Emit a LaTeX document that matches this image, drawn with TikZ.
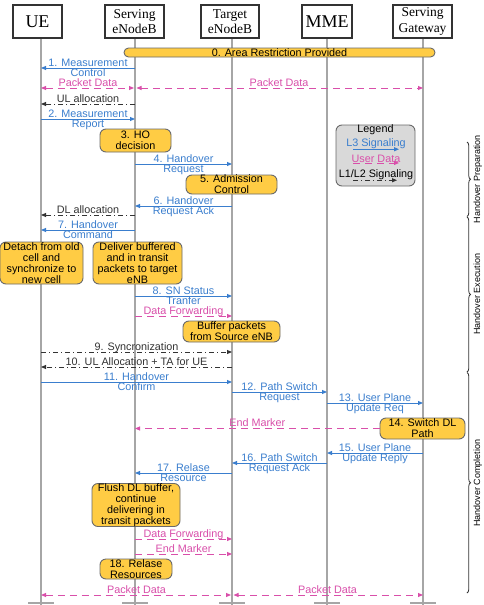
\documentclass[tikz,border=0pt]{standalone}
\usepackage{fontspec}
\setmainfont{Liberation Sans}
\newfontfamily\hdrfont{Liberation Serif}
\usetikzlibrary{arrows.meta,decorations.pathreplacing,calc}
\definecolor{lblue}{HTML}{3A7ECE}
\definecolor{lpink}{HTML}{D94FAA}
\definecolor{lyel}{HTML}{FFCC44}
\definecolor{lgrayb}{HTML}{6A6A6A}
\definecolor{lline}{HTML}{A6A6A6}
\definecolor{ldark}{HTML}{333333}
\definecolor{lleg}{HTML}{D9D9D9}
\newcommand\SeqTwo[6]{\draw[#1] (#2 |- 0,#4) -- node[tl]{#5} node[bl]{#6} (#3 |- 0,#4);}
\newcommand\SeqOne[5]{\draw[#1] (#2 |- 0,#4) -- node[tl]{#5} (#3 |- 0,#4);}
\begin{document}
\begin{tikzpicture}[x=1pt,y=-1pt,
 font=\fontsize{10.8}{11}\selectfont,
 hdr/.style={draw=ldark, line width=1.1pt, fill=white, inner sep=0, align=center, minimum height=33pt, font=\hdrfont\fontsize{13.5}{15.5}\selectfont},
 life/.style={draw=lline, line width=1.2pt},
 msgtip/.style={-{Triangle[length=5pt,width=4pt]}},
 sig/.style={color=lblue, line width=0.9pt, msgtip},
 usr/.style={color=lpink, line width=0.9pt, dash pattern=on 7pt off 5pt, msgtip},
 usrtwo/.style={color=lpink, line width=0.9pt, dash pattern=on 7pt off 5pt, {Triangle[length=5pt,width=4pt]}-{Triangle[length=5pt,width=4pt]}},
 ctl/.style={color=ldark, line width=0.9pt, dash pattern=on 5pt off 3pt on 1pt off 3pt, msgtip},
 act/.style={draw=lgrayb, fill=lyel, line width=0.9pt, rounded corners=6pt, inner sep=0, align=center},
 tl/.style={midway, anchor=base, yshift=2pt, inner sep=0},
 bl/.style={midway, anchor=base, yshift=-8.7pt, inner sep=0},
 brc/.style={draw=ldark, line width=0.8pt, decorate, decoration={brace, amplitude=3.5pt}},
 phase/.style={rotate=90, anchor=north, inner sep=0, font=\fontsize{9}{10}\selectfont},
]
\useasboundingbox (0,0) rectangle (483,605);
\fill[white] (0,0) rectangle (483,605);

% lifeline coordinates
\coordinate (LU) at (41,37);
\coordinate (LS) at (135,37);
\coordinate (LT) at (232,37);
\coordinate (LM) at (327,37);
\coordinate (LG) at (423,37);

% lifelines and bottom ticks
\foreach \c in {LU,LS,LT,LM,LG}{
  \draw[life] (\c) -- (\c |- 0,605);
  \draw[life] (\c |- 0,603) ++(-13,0) -- ++(26,0);
}

% headers
\node[hdr, minimum width=49pt, font=\hdrfont\fontsize{18}{20}\selectfont] (ue) at (37.5,21.5) {UE};
\node[hdr, minimum width=59pt] (sv) at (134.5,21.5) {Serving\\eNodeB};
\node[hdr, minimum width=58pt] (tg) at (230,21.5) {Target\\eNodeB};
\node[hdr, minimum width=50pt, font=\hdrfont\fontsize{18}{20}\selectfont] (mme) at (327,21.5) {MME};
\node[hdr, minimum width=59pt] (sgw) at (422.5,21.5) {Serving\\Gateway};

% 0
\node[act, rounded corners=4.5pt, minimum width=311pt, minimum height=9pt] (b0) at (279.5,52.5) {0. Area Restriction Provided};

% messages
\SeqTwo{sig}{LS}{LU}{68}{1. Measurement}{Control}
\draw[usrtwo, shorten >=1pt] (LU |- 0,88) -- node[tl]{Packet Data} (LS |- 0,88);
\draw[usrtwo, shorten <=1.5pt] (LS |- 0,88) -- node[tl]{Packet Data} (LG |- 0,88);
\SeqOne{ctl}{LS}{LU}{104}{UL allocation}
\SeqTwo{sig}{LU}{LS}{119}{2. Measurement}{Report}
\node[act, minimum width=71pt, minimum height=23pt] (b3) at (135.5,140.5) {3. HO\\decision};
\SeqTwo{sig}{LS}{LT}{164}{4. Handover}{Request}
\node[act, minimum width=91pt, minimum height=19pt] (b5) at (231.5,184.5) {5. Admission\\Control};
\SeqTwo{sig}{LT}{LS}{206}{6. Handover}{Request Ack}
\SeqOne{ctl}{LS}{LU}{215}{DL allocation}
\SeqTwo{sig}{LS}{LU}{230}{7. Handover}{Command}
\node[act, minimum width=83pt, minimum height=42pt] (bdet) at (41.5,263) {Detach from old\\cell and\\synchronize to\\new cell};
\node[act, minimum width=89pt, minimum height=42pt] (bdel) at (137.5,263) {Deliver buffered\\and in transit\\packets to target\\eNB};
\SeqTwo{sig}{LS}{LT}{296}{8. SN Status}{Tranfer}
\SeqOne{usr}{LS}{LT}{316}{Data Forwarding}
\node[act, minimum width=97pt, minimum height=21pt] (bbuf) at (231.5,331.5) {Buffer packets\\from Source eNB};
\SeqOne{ctl}{LU}{LT}{352}{9. Syncronization}
\SeqOne{ctl}{LT}{LU}{367}{10. UL Allocation + TA for UE}
\SeqTwo{sig}{LU}{LT}{382}{11. Handover}{Confirm}
\SeqTwo{sig}{LT}{LM}{392}{12. Path Switch}{Request}
\SeqTwo{sig}{LM}{LG}{403}{13. User Plane}{Update Req}
\node[act, minimum width=85pt, minimum height=21pt] (b14) at (422.5,428.5) {14. Switch DL\\Path};
\draw[usr] (b14.west) -- node[tl]{End Marker} (LS |- b14.west);
\SeqTwo{sig}{LG}{LM}{453}{15. User Plane}{Update Reply}
\SeqTwo{sig}{LM}{LT}{463}{16. Path Switch}{Request Ack}
\SeqTwo{sig}{LT}{LS}{473}{17. Relase}{Resource}
\node[act, minimum width=88pt, minimum height=42pt] (bfl) at (136,505) {Flush DL buffer,\\continue\\delivering in\\transit packets};
\SeqOne{usr}{LS}{LT}{539}{Data Forwarding}
\SeqOne{usr}{LS}{LT}{554}{End Marker}
\node[act, minimum width=72pt, minimum height=20pt] (b18) at (136,569) {18. Relase\\Resources};
\draw[usrtwo, shorten >=1pt] (LU |- 0,595) -- node[tl]{Packet Data} (LT |- 0,595);
\draw[usrtwo, shorten <=1.5pt] (LT |- 0,595) -- node[tl]{Packet Data} (LG |- 0,595);

% legend
\node[draw=lgrayb, fill=lleg, rounded corners=6pt, line width=0.9pt, minimum width=79pt, minimum height=61pt] (leg) at (375.5,155.5) {};
\node[inner sep=0] (legt) at (375.5,130) {Legend};
\node[inner sep=0, text=lblue] (leg3) at (376,144) {L3 Signaling};
\draw[sig] ([xshift=-23pt]leg3.south) -- ([xshift=23pt]leg3.south);
\node[inner sep=0, text=lpink] (legu) at (376,159) {User Data};
\draw[usr] ([xshift=-23pt]legu.south) -- ([xshift=23pt]legu.south);
\node[inner sep=0, text=black] (legc) at (376,175) {L1/L2 Signaling};
\draw[ctl] ([xshift=-23pt]legc.south) -- ([xshift=21pt]legc.south);

% phase braces
\coordinate (p0) at (467,142);
\coordinate (p1) at (467,216.5);
\coordinate (p2) at (467,372);
\coordinate (p3) at (467,593);
\draw[brc] (p0) -- (p1);
\draw[brc] ([yshift=-0.5pt]p1) -- (p2);
\draw[brc] ([yshift=-0.5pt]p2) -- (p3);
\node[phase] (hp) at (473.5,179) {Handover Preparation};
\node[phase] (he) at (473.5,294) {Handover Execution};
\node[phase] (hc) at (473.5,483) {Handover Completion};
\end{tikzpicture}
\end{document}
